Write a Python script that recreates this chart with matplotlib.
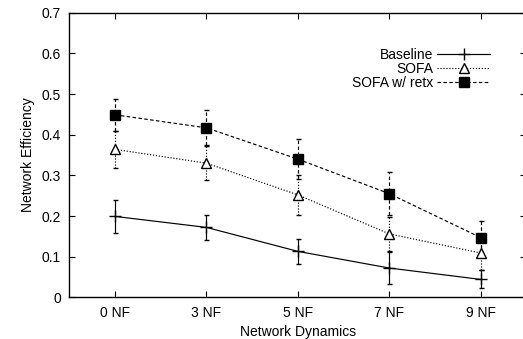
import matplotlib
matplotlib.use("Agg")
import matplotlib.pyplot as plt
from matplotlib.lines import Line2D
import numpy as np

categories = ["0 NF", "3 NF", "5 NF", "7 NF", "9 NF"]
baseline = [0.199, 0.172, 0.113, 0.072, 0.044]
baseline_err = [0.040, 0.031, 0.031, 0.040, 0.022]
sofa = [0.364, 0.330, 0.252, 0.156, 0.109]
sofa_err = [0.045, 0.042, 0.050, 0.042, 0.042]
retx = [0.449, 0.417, 0.340, 0.255, 0.147]
retx_err = [0.040, 0.043, 0.050, 0.053, 0.040]
yticks = [0, 0.1, 0.2, 0.3, 0.4, 0.5, 0.6, 0.7]
ytick_labels = ["0", "0.1", "0.2", "0.3", "0.4", "0.5", "0.6", "0.7"]

plt.rcParams['font.family'] = ['Liberation Sans', 'DejaVu Sans']
FS = 10

W, H = 523, 339
fig = plt.figure(figsize=(W / 100, H / 100), dpi=100)
left, right, top, bottom = 69.3, 526.4, 12.8, 297.3
ax = fig.add_axes([left / W, 1 - bottom / H, (right - left) / W, (bottom - top) / H])

x = np.arange(len(categories))
DOT = (0, (1, 1.5))
DASH = (0, (3, 2))

styles = [
    (baseline, baseline_err, '-', '+', 8, 'black', 'Baseline'),
    (sofa, sofa_err, DOT, '^', 6.5, 'white', 'SOFA'),
    (retx, retx_err, DASH, 's', 7.2, 'black', 'SOFA w/ retx'),
]
handles = []
for y, e, ls, marker, ms, mfc, label in styles:
    eb = ax.errorbar(x, y, yerr=e, color='black', linestyle=ls, linewidth=0.85,
                     marker=marker, markersize=ms, markerfacecolor=mfc,
                     markeredgecolor='black', markeredgewidth=1.0,
                     capsize=1.8, elinewidth=0.85, capthick=0.85)
    for c in eb[2]:
        c.set_linestyle(ls)
    handles.append(Line2D([], [], color='black', linestyle=ls, linewidth=0.85,
                          marker=marker, markersize=ms, markerfacecolor=mfc,
                          markeredgecolor='black', markeredgewidth=1.0, label=label))

ax.set_xlim(-0.5, 4.5)
ax.set_ylim(0, 0.7)
ax.set_xticks(x)
ax.set_xticklabels(categories)
ax.set_yticks(yticks)
ax.set_yticklabels(ytick_labels)
ax.tick_params(direction='in', length=4, width=0.8, top=True, right=True, pad=6, labelsize=FS)
for s in ax.spines.values():
    s.set_linewidth(1.0)

ax.set_xlabel("Network Dynamics", fontsize=FS, labelpad=4)
ax.set_ylabel("Network Efficiency", fontsize=FS, labelpad=5)

leg = ax.legend(handles=handles, loc='upper right',
                bbox_to_anchor=((490 - left) / (right - left), 1 - (48 - top) / (bottom - top)),
                frameon=False, markerfirst=False, handlelength=3.8, handletextpad=0.3,
                labelspacing=0.0, fontsize=FS, borderpad=0, borderaxespad=0)
for t in leg.get_texts():
    t.set_ha('right')

fig.savefig("out.png", dpi=100)
